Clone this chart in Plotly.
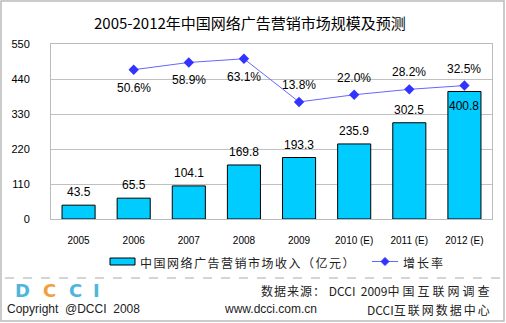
import plotly.graph_objects as go

years = ["2005", "2006", "2007", "2008", "2009", "2010 (E)", "2011 (E)", "2012 (E)"]
revenue = [43.5, 65.5, 104.1, 169.8, 193.3, 235.9, 302.5, 400.8]
growth = [None, 50.6, 58.9, 63.1, 13.8, 22.0, 28.2, 32.5]
y_ticks = [0, 110, 220, 330, 440, 550]

title_text = "2005-2012年中国网络广告营销市场规模及预测"
bar_name = "中国网络广告营销市场收入（亿元）"
line_name = "增长率"

W, H = 506, 323
L, R, T, B = 51, 14, 44, 104
PW, PH = W - L - R, H - T - B

def px(x):
    return (x - L) / PW

def py(y):
    return (H - B - y) / PH

NUM = "Liberation Sans"
CJK = "Noto Sans CJK SC"
BAR_C = "#00CCFF"

xi = list(range(len(years)))

fig = go.Figure()
fig.add_trace(go.Bar(x=xi, y=revenue, name=bar_name, marker=dict(color=BAR_C, line=dict(color="#000000", width=1)),
                     width=0.6, showlegend=False, hoverinfo="skip"))
fig.add_trace(go.Scatter(x=xi, y=growth, name=line_name, yaxis="y2", mode="lines+markers",
                         line=dict(color="#6666FF", width=1),
                         marker=dict(symbol="diamond", size=8, color="#3333FF"),
                         showlegend=False, hoverinfo="skip"))

ann = []
# bar value labels
for i, v in enumerate(revenue):
    inside = i == len(years) - 1
    ann.append(dict(x=xi[i], y=v, xref="x", yref="y", text=f"{v:.1f}", showarrow=False,
                    yanchor="middle", yshift=-15 if inside else 13,
                    font=dict(family=NUM, size=12, color="#000")))
# growth labels
for i, g in enumerate(growth):
    if g is None:
        continue
    below = g > 40
    ann.append(dict(x=xi[i], y=g, xref="x", yref="y2", text=f"{g:.1f}%", showarrow=False,
                    yanchor="middle", yshift=-18 if below else 17,
                    font=dict(family=NUM, size=12, color="#000")))

# title
ann.append(dict(x=px(250), y=py(22), xref="paper", yref="paper", text=title_text, showarrow=False,
                xanchor="center", yanchor="middle", font=dict(family=CJK, size=15, color="#000")))

# legend texts
ann.append(dict(x=px(138), y=py(262), xref="paper", yref="paper",
                text=f'<span style="letter-spacing:1.5px">{bar_name}</span>', showarrow=False,
                xanchor="left", yanchor="middle", font=dict(family=CJK, size=12, color="#222")))
ann.append(dict(x=px(401), y=py(262), xref="paper", yref="paper",
                text=f'<span style="letter-spacing:2px">{line_name}</span>', showarrow=False,
                xanchor="left", yanchor="middle", font=dict(family=CJK, size=12, color="#222")))

# footer
foot = "#222"
ann.append(dict(x=px(494), y=py(290), xref="paper", yref="paper",
                text='<span style="letter-spacing:1px">数据来源：</span> DCCI  2009<span style="letter-spacing:3px">中国互联网调查</span>',
                showarrow=False, xanchor="right", yanchor="middle", font=dict(family=CJK, size=12, color=foot)))
ann.append(dict(x=px(494), y=py(309), xref="paper", yref="paper",
                text='DCCI<span style="letter-spacing:2px">互联网数据中心</span>',
                showarrow=False, xanchor="right", yanchor="middle", font=dict(family=CJK, size=12, color=foot)))
ann.append(dict(x=px(270), y=py(309), xref="paper", yref="paper", text="www.dcci.com.cn",
                showarrow=False, xanchor="center", yanchor="middle", font=dict(family=NUM, size=12, color=foot)))
ann.append(dict(x=px(5), y=py(309), xref="paper", yref="paper", text="Copyright  @DCCI  2008",
                showarrow=False, xanchor="left", yanchor="middle", font=dict(family=NUM, size=12, color=foot)))

# logo letters
logo = [("D", 22, "#4DB6DE"), ("C", 49, "#F0A040"), ("C", 75, "#4DB6DE"), ("I", 96, "#4DB6DE")]
for ch, xc, col in logo:
    ann.append(dict(x=px(xc), y=py(290), xref="paper", yref="paper", text=f"<b>{ch}</b>", showarrow=False,
                    xanchor="center", yanchor="middle", font=dict(family="DejaVu Sans", size=18, color=col)))

shapes = []
# outer border
shapes.append(dict(type="rect", xref="paper", yref="paper", x0=px(1), x1=px(504), y0=py(1), y1=py(321),
                   line=dict(color="#BBBBBB", width=1.5), layer="below"))
# dashed separator
shapes.append(dict(type="line", xref="paper", yref="paper", x0=px(5), x1=px(500), y0=py(278), y1=py(278),
                   line=dict(color="#AAAAAA", width=1, dash="dash")))
# legend icons
shapes.append(dict(type="rect", xref="paper", yref="paper", x0=px(110), x1=px(135), y0=py(258), y1=py(265),
                   fillcolor=BAR_C, line=dict(color="#000", width=1)))
shapes.append(dict(type="line", xref="paper", yref="paper", x0=px(372), x1=px(398), y0=py(261.5), y1=py(261.5),
                   line=dict(color="#6666FF", width=1)))
dx, dy = 4 / PW, 4 / PH
cx, cy = px(385), py(261.5)
shapes.append(dict(type="path", xref="paper", yref="paper",
                   path=f"M {cx} {cy+dy} L {cx+dx} {cy} L {cx} {cy-dy} L {cx-dx} {cy} Z",
                   fillcolor="#3333FF", line=dict(color="#3333FF", width=1)))

fig.update_layout(
    width=W, height=H, margin=dict(l=L, r=R, t=T, b=B),
    paper_bgcolor="#FFFFFF", plot_bgcolor="#FFFFFF",
    xaxis=dict(range=[-0.5, len(years) - 0.5], tickvals=xi, ticktext=years, showgrid=False, zeroline=False,
               showline=True, linecolor="#BBBBBB", mirror=True,
               tickfont=dict(family=NUM, size=10, color="#000"), ticks="", ticklabelstandoff=12),
    yaxis=dict(range=[0, 550], tickvals=y_ticks, showgrid=True, gridcolor="#C0C0C0", gridwidth=1,
               showline=True, linecolor="#BBBBBB", mirror=True, zeroline=False,
               tickfont=dict(family=NUM, size=11, color="#000"), ticks="", ticklabelstandoff=18),
    yaxis2=dict(range=[-120, 80], overlaying="y", visible=False),
    annotations=ann, shapes=shapes,
)

fig.write_html("out.html")
